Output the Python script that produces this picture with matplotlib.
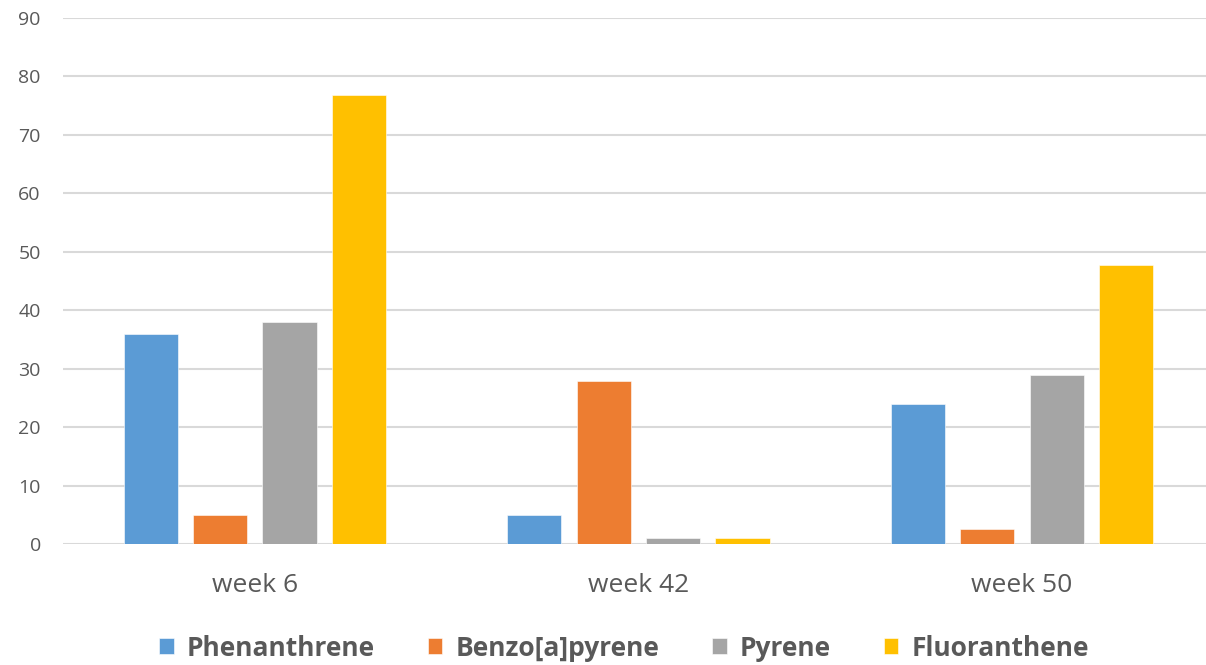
import matplotlib
matplotlib.use("Agg")
import matplotlib.pyplot as plt
import numpy as np

categories = ["week 6", "week 42", "week 50"]
series_names = ["Phenanthrene", "Benzo[a]pyrene", "Pyrene", "Fluoranthene"]
phenanthrene = [36.0, 4.9, 24.0]
benzo_a_pyrene = [5.0, 27.9, 2.5]
pyrene = [37.9, 1.0, 28.9]
fluoranthene = [76.8, 1.0, 47.8]
colors = ["#5B9BD5", "#ED7D31", "#A5A5A5", "#FFC000"]
yticks = [0, 10, 20, 30, 40, 50, 60, 70, 80, 90]

plt.rcParams['font.family'] = ['Open Sans', 'DejaVu Sans']

fig = plt.figure(figsize=(12.06, 6.65), dpi=100)
ax = fig.add_axes([63/1206, 1-544/665, 1-63/1206, (544-18)/665])

values = [phenanthrene, benzo_a_pyrene, pyrene, fluoranthene]
x = np.arange(len(categories))
step = 0.181
width = 0.141
for i, (name, vals, c) in enumerate(zip(series_names, values, colors)):
    offs = (i - 1.5) * step
    ax.bar(x + offs, vals, width, color=c, label=name, zorder=3,
           edgecolor="white", linewidth=0.4)

ax.set_xlim(-0.5, 2.48)
ax.set_ylim(0, 90)
ax.set_yticks(yticks)
ax.set_xticks(x)
ax.set_xticklabels(categories, fontsize=19, color="#595959")
ax.tick_params(axis='y', labelsize=14, colors="#595959", length=0, pad=16)
ax.tick_params(axis='x', length=0, pad=21)
ax.grid(axis='y', color="#D9D9D9", linewidth=1.5, zorder=0)
for s in ax.spines.values():
    s.set_visible(False)

leg = fig.legend(loc="center", bbox_to_anchor=(624/1206, 1-648/665), ncol=4,
                 frameon=False, handlelength=0.55, handleheight=0.55,
                 handletextpad=0.5, columnspacing=2.0,
                 prop={'size': 19, 'weight': 'bold'})
for t in leg.get_texts():
    t.set_color("#595959")

fig.savefig("out.png", dpi=100, facecolor="white")
